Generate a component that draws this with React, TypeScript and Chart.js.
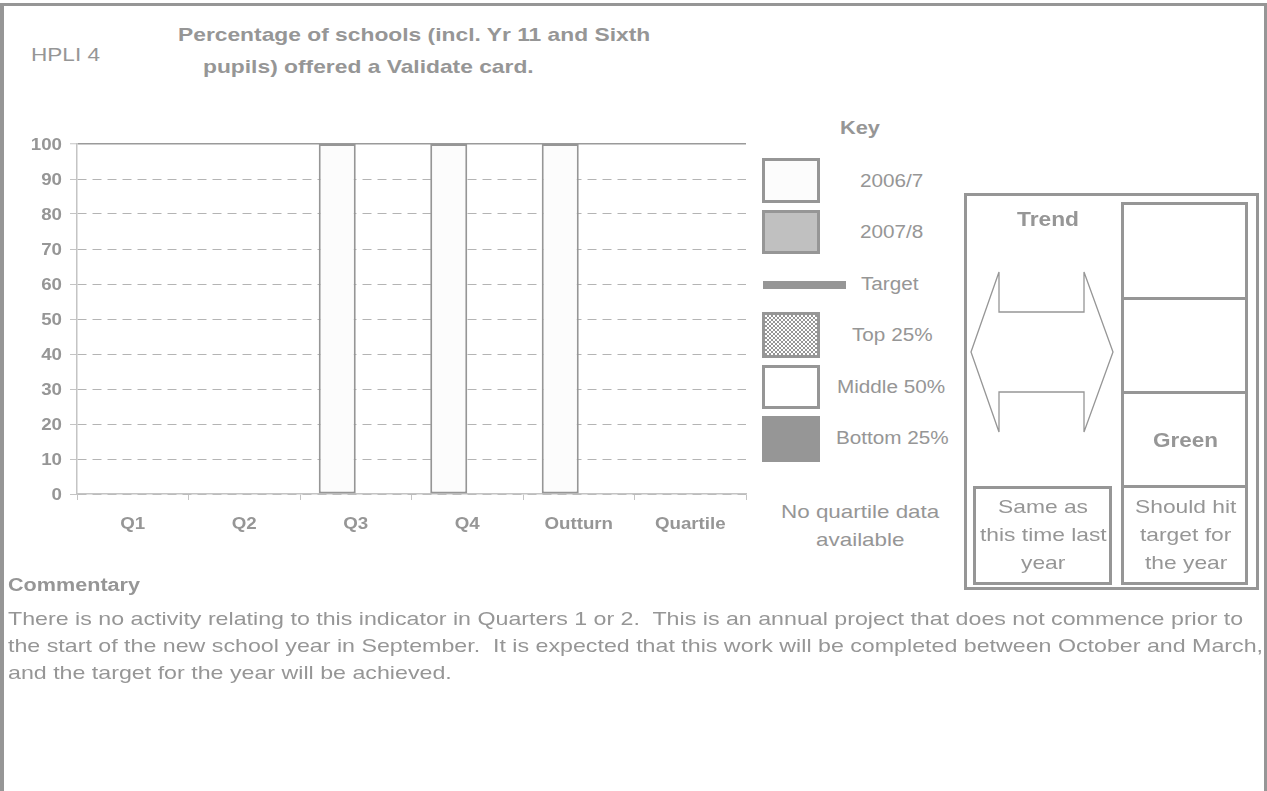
import React, { useEffect, useRef } from 'react';
import { Chart, registerables } from 'chart.js';

Chart.register(...registerables);

// ---------- data ----------
const categories = ['Q1', 'Q2', 'Q3', 'Q4', 'Outturn', 'Quartile'];
const values2006 = [null, null, 100, 100, 100, null];
const values2007 = [null, null, null, null, null, null];
const yMin = 0;
const yMax = 100;
const yStep = 10;
const keyLabels = ['2006/7', '2007/8', 'Target', 'Top 25%', 'Middle 50%', 'Bottom 25%'];
const titleLines = ['Percentage of schools (incl. Yr 11 and Sixth', 'pupils) offered a Validate card.'];
const indicatorName = 'HPLI 4';
const noQuartile = ['No quartile data', 'available'];
const trendLines = ['Same as', 'this time last', 'year'];
const ragLines = ['Should hit', 'target for', 'the year'];
const ragStatus = 'Green';
const commentaryTitle = 'Commentary';
const commentaryLines = [
  'There is no activity relating to this indicator in Quarters 1 or 2.  This is an annual project that does not commence prior to',
  'the start of the new school year in September.  It is expected that this work will be completed between October and March,',
  'and the target for the year will be achieved.',
];

// ---------- styling ----------
const GREY = '#969696';
const FONT = '"Liberation Sans", Arial, Helvetica, sans-serif';
const TICK_STRETCH = 1.17;

let mctx: CanvasRenderingContext2D | null = null;
function measure(text: string, font: string): number {
  if (!mctx) mctx = document.createElement('canvas').getContext('2d');
  if (!mctx) return text.length * 8;
  mctx.font = font;
  return mctx.measureText(text).width;
}

type TxtProps = {
  text: string;
  x: number;
  cy: number;
  size: number;
  bold?: boolean;
  anchor?: 'left' | 'center' | 'right';
  w?: number;
  s?: number;
};

function Txt({ text, x, cy, size, bold, anchor = 'left', w, s = 1 }: TxtProps) {
  const font = `${bold ? 'bold ' : ''}${size}px ${FONT}`;
  const nat = measure(text, font);
  const sc = w ? w / nat : s;
  const width = nat * sc;
  const left = anchor === 'left' ? x : anchor === 'center' ? x - width / 2 : x - width;
  return (
    <span
      style={{
        position: 'absolute',
        left,
        top: cy,
        font,
        lineHeight: 1,
        color: GREY,
        whiteSpace: 'pre',
        transformOrigin: '0 50%',
        transform: `translateY(-50%) scaleX(${sc})`,
      }}
    >
      {text}
    </span>
  );
}

const stretchedTicks = {
  id: 'stretchedTicks',
  afterDraw(chart: any) {
    const { ctx } = chart;
    const xs = chart.scales.x;
    const ys = chart.scales.y;
    const size = 16;
    ctx.save();
    ctx.fillStyle = GREY;
    ctx.font = `bold ${size}px ${FONT}`;
    ctx.textBaseline = 'alphabetic';
    ys.ticks.forEach((t: any, i: number) => {
      const py = ys.getPixelForTick(i);
      ctx.save();
      ctx.translate(ys.right - 15, py + size * 0.358);
      ctx.scale(TICK_STRETCH, 1);
      ctx.textAlign = 'right';
      ctx.fillText(String(t.value), 0, 0);
      ctx.restore();
    });
    const labels = chart.data.labels as string[];
    xs.ticks.forEach((_t: any, i: number) => {
      const px = xs.getPixelForTick(i);
      ctx.save();
      ctx.translate(px, xs.top + 29 + size * 0.358);
      ctx.scale(TICK_STRETCH, 1);
      ctx.textAlign = 'center';
      ctx.fillText(String(labels[i]), 0, 0);
      ctx.restore();
    });
    ctx.restore();
  },
};

function BarChart() {
  const ref = useRef<HTMLCanvasElement>(null);
  useEffect(() => {
    if (!ref.current) return;
    const chart = new Chart(ref.current, {
      type: 'bar',
      data: {
        labels: categories,
        datasets: [
          {
            label: keyLabels[0],
            data: values2006 as any,
            backgroundColor: '#fcfcfc',
            borderColor: GREY,
            borderWidth: 2,
            borderSkipped: false,
          },
          {
            label: keyLabels[1],
            data: values2007 as any,
            backgroundColor: '#c0c0c0',
            borderColor: GREY,
            borderWidth: 2,
            borderSkipped: false,
          },
        ],
      },
      options: {
        animation: false,
        responsive: true,
        maintainAspectRatio: false,
        datasets: { bar: { categoryPercentage: 0.664, barPercentage: 1 } },
        layout: { padding: { top: 34, right: 14, left: 0, bottom: 0 } },
        plugins: { legend: { display: false }, tooltip: { enabled: false }, title: { display: false } },
        scales: {
          x: {
            ticks: { display: false },
            grid: {
              display: true,
              drawOnChartArea: false,
              drawTicks: true,
              offset: true,
              tickLength: 6,
              tickColor: '#c4c4c4',
              tickWidth: 1,
            },
            border: { display: true, color: '#c4c4c4', width: 1.5 },
            afterFit: (s: any) => {
              s.height = 66;
            },
          },
          y: {
            min: yMin,
            max: yMax,
            ticks: { display: false, stepSize: yStep },
            grid: {
              display: true,
              drawTicks: true,
              tickLength: 7,
              tickColor: '#c4c4c4',
              tickWidth: 1,
              tickBorderDash: [],
              color: (c: any) => (c.tick && c.tick.value === yMax ? '#9a9a9a' : '#b4b4b4'),
              lineWidth: (c: any) => (c.tick && c.tick.value === yMax ? 1.5 : 1),
            },
            border: {
              display: true,
              color: '#c4c4c4',
              width: 1.5,
              dash: (c: any) => (c.tick && c.tick.value !== yMax ? [9, 6] : []),
            },
            afterFit: (s: any) => {
              s.width = 77;
            },
          },
        },
      },
      plugins: [stretchedTicks],
    } as any);
    return () => chart.destroy();
  }, []);
  return (
    <div style={{ position: 'absolute', left: 0, top: 110, width: 760, height: 450 }}>
      <canvas ref={ref} />
    </div>
  );
}

const swatchBase: React.CSSProperties = {
  position: 'absolute',
  left: 762,
  width: 58,
  boxSizing: 'border-box',
  border: `3px solid ${GREY}`,
};

export default function App() {
  const arrow = [
    [971, 352], [999, 272], [999, 312], [1084, 312], [1084, 272], [1113, 352],
    [1084, 432], [1084, 392], [999, 392], [999, 432],
  ].map((p) => p.join(',')).join(' ');
  const cellTops = [202, 297, 391, 485, 582];
  const keyCy = [180.5, 232, 284, 335, 387, 438];
  const keyCx = [892, 892, 889.5, 892.5, 891.5, 892];
  return (
    <div
      style={{
        position: 'absolute',
        left: 0,
        top: 0,
        width: 1267,
        height: 791,
        overflow: 'hidden',
        background: '#fff',
        fontFamily: FONT,
      }}
    >
      <div
        style={{
          position: 'absolute',
          left: 0,
          top: 3,
          width: 1267,
          height: 800,
          boxSizing: 'border-box',
          borderTop: `3px solid ${GREY}`,
          borderLeft: `4px solid ${GREY}`,
          borderRight: `3px solid ${GREY}`,
        }}
      />
      <Txt text={indicatorName} x={31} cy={55} size={18} w={69} />
      <Txt text={titleLines[0]} x={178} cy={34} size={19} bold s={1.2} />
      <Txt text={titleLines[1]} x={203} cy={66} size={19} bold s={1.2} />

      <BarChart />

      {/* Key */}
      <Txt text="Key" x={860} cy={128} size={18} bold anchor="center" w={40} />
      <div style={{ ...swatchBase, top: 158, height: 45, background: '#fcfcfc' }} />
      <div style={{ ...swatchBase, top: 210, height: 44, background: '#c0c0c0' }} />
      <div style={{ position: 'absolute', left: 763, top: 281, width: 83, height: 8, background: GREY }} />
      <div
        style={{
          ...swatchBase,
          top: 312,
          height: 46,
          backgroundImage: `repeating-conic-gradient(${GREY} 0% 25%, #ffffff 0% 50%)`,
          backgroundSize: '4px 4px',
        }}
      />
      <div style={{ ...swatchBase, top: 365, height: 44, background: '#fff' }} />
      <div style={{ ...swatchBase, top: 416, height: 46, background: GREY }} />
      {keyLabels.map((k, i) => (
        <Txt key={k} text={k} x={keyCx[i]} cy={keyCy[i]} size={18} anchor="center" s={1.15} />
      ))}
      <Txt text={noQuartile[0]} x={860.5} cy={511} size={19} anchor="center" s={1.18} />
      <Txt text={noQuartile[1]} x={860} cy={539} size={19} anchor="center" s={1.18} />

      {/* Trend box */}
      <div
        style={{
          position: 'absolute',
          left: 964,
          top: 193,
          width: 295,
          height: 397,
          boxSizing: 'border-box',
          border: `3px solid ${GREY}`,
        }}
      />
      {cellTops.slice(0, 4).map((t, i) => (
        <div
          key={t}
          style={{
            position: 'absolute',
            left: 1121,
            top: t,
            width: 127,
            height: cellTops[i + 1] - t + 3,
            boxSizing: 'border-box',
            border: `3px solid ${GREY}`,
          }}
        />
      ))}
      <div
        style={{
          position: 'absolute',
          left: 973,
          top: 486,
          width: 139,
          height: 99,
          boxSizing: 'border-box',
          border: `3px solid ${GREY}`,
        }}
      />
      <svg style={{ position: 'absolute', left: 0, top: 0 }} width={1267} height={791}>
        <polygon points={arrow} fill="#fff" stroke={GREY} strokeWidth={1.3} />
      </svg>
      <Txt text="Trend" x={1048} cy={219} size={20} bold anchor="center" w={62} />
      <Txt text={ragStatus} x={1185} cy={440} size={20} bold anchor="center" w={65} />
      {trendLines.map((t, i) => (
        <Txt key={t} text={t} x={1043} cy={506 + i * 28} size={19} anchor="center" s={1.2} />
      ))}
      {ragLines.map((t, i) => (
        <Txt key={t} text={t} x={1186} cy={506 + i * 28} size={19} anchor="center" s={1.2} />
      ))}

      {/* Commentary */}
      <Txt text={commentaryTitle} x={8} cy={585} size={18} bold s={1.2} />
      {commentaryLines.map((t, i) => {
        const sc = 1255 / measure(commentaryLines[1], `19px ${FONT}`);
        return <Txt key={i} text={t} x={8} cy={618 + i * 27} size={19} s={sc} />;
      })}
    </div>
  );
}
